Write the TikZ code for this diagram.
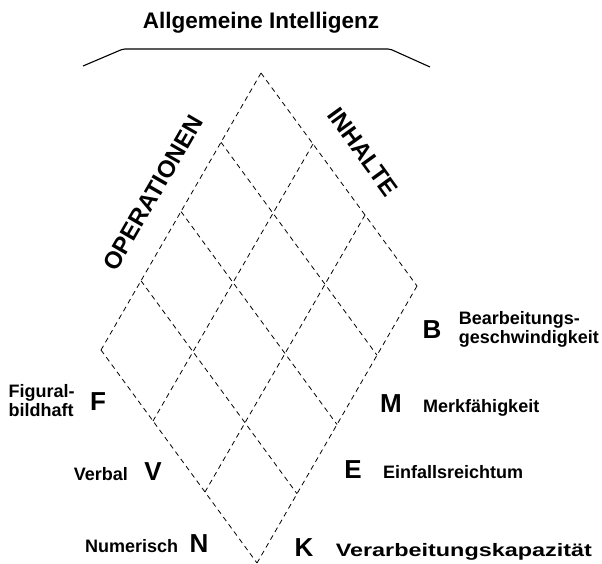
\documentclass[tikz,border=0pt]{standalone}
\usepackage{fontspec}
\setmainfont{Liberation Sans}
\newfontfamily\widefont[FakeStretch=1.3]{Liberation Sans}
\usetikzlibrary{positioning,calc}

\begin{document}
\begin{tikzpicture}[
    x=1pt, y=-1pt,
    gridline/.style={dash pattern=on 5pt off 4pt, line width=0.8pt},
    bracket/.style={line width=1.1pt, rounded corners=2pt},
    headline/.style={font=\fontsize{22.5}{26}\selectfont\bfseries, anchor=base, inner sep=0pt},
    axislabel/.style={font=\fontsize{24}{28}\selectfont\bfseries, inner sep=0pt},
    factor/.style={font=\fontsize{26}{30}\selectfont\bfseries, anchor=base, inner sep=0pt},
    desc/.style={font=\fontsize{18}{19}\selectfont\bfseries, align=left, inner sep=0pt}
]
\useasboundingbox (0,0) rectangle (602,564);

% title and bracket
\node[headline] (title) at (261,29) {Allgemeine Intelligenz};
\draw[bracket] (83,66) -- (123,49) -- (390,49) -- (430,67);

% rhombus grid: 3 operations x 4 contents
\coordinate (top) at (261,73);
\foreach \j in {0,...,4}
  \draw[gridline] ($(top)+\j*(-40,69.25)$) -- ++(156,213);
\foreach \i in {0,...,3}
  \draw[gridline] ($(top)+\i*(52,71)$) -- ++(-160,277);

\node[axislabel, rotate=60] (ops) at (153,193) {OPERATIONEN};
\node[axislabel, rotate=-54] (inh) at (363,152) {INHALTE};

% operations
\node[factor] (F) at (98,410) {F};
\node[factor] (V) at (153,480) {V};
\node[factor] (N) at (199,552) {N};
\node[desc, left=15pt of F] (figural) {Figural-\\bildhaft};
\node[desc, left=16pt of V.base west, anchor=base east] (verbal) {Verbal};
\node[desc, left=11pt of N.base west, anchor=base east] (numerisch) {Numerisch};

% contents
\node[factor] (B) at (432,338) {B};
\node[factor] (M) at (391,412) {M};
\node[factor] (E) at (353,478) {E};
\node[factor] (K) at (304,556) {K};
\node[desc, right=17pt of B] (bearb) {Bearbeitungs-\\geschwindigkeit};
\node[desc, right=21pt of M.base east, anchor=base west] (merk) {Merkfähigkeit};
\node[desc, right=21pt of E.base east, anchor=base west] (einfall) {Einfallsreichtum};
\node[desc, right=22pt of K.base east, anchor=base west] (verarb) {\widefont Verarbeitungskapazität};
\end{tikzpicture}
\end{document}
